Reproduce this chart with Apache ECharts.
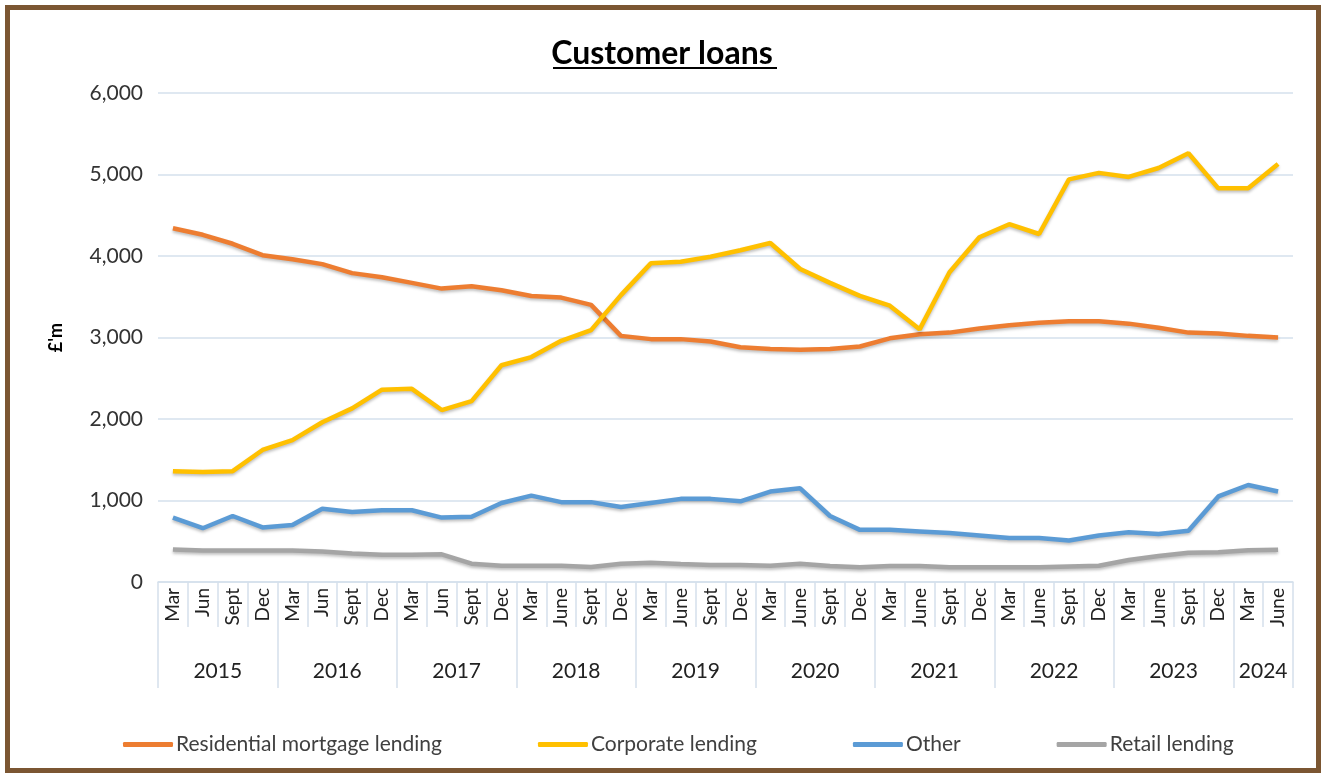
<!DOCTYPE html>
<html>
<head>
<meta charset="utf-8">
<script src="https://cdn.jsdelivr.net/npm/echarts@6/dist/echarts.min.js"></script>
<style>
html,body{margin:0;padding:0;background:#fff;}
#chart{position:absolute;left:0;top:0;width:1324px;height:774px;}
#frame{position:absolute;left:5px;top:5px;width:1316px;height:768px;box-sizing:border-box;border:5px solid #7B5632;pointer-events:none;}
</style>
</head>
<body>
<div id="chart"></div>
<div id="frame"></div>
<script>
const quarters = ['Mar','Jun','Sept','Dec','Mar','Jun','Sept','Dec','Mar','Jun','Sept','Dec',
  'Mar','June','Sept','Dec','Mar','June','Sept','Dec','Mar','June','Sept','Dec',
  'Mar','June','Sept','Dec','Mar','June','Sept','Dec','Mar','June','Sept','Dec','Mar','June'];
const years = ['2015','2016','2017','2018','2019','2020','2021','2022','2023','2024'];
const yearStart = [0,4,8,12,16,20,24,28,32,36,38];
const yTicks = [0,1000,2000,3000,4000,5000,6000];

const residential = [4340,4260,4150,4010,3960,3900,3790,3740,3670,3600,3630,3580,
  3510,3490,3400,3020,2980,2980,2950,2880,2860,2850,2860,2890,
  2990,3040,3060,3110,3150,3180,3200,3200,3170,3120,3060,3050,3020,3000];
const corporate = [1360,1350,1360,1620,1740,1960,2130,2360,2370,2110,2220,2660,
  2760,2960,3090,3520,3910,3930,3990,4070,4160,3840,3670,3510,
  3390,3100,3800,4230,4390,4270,4940,5020,4970,5080,5260,4830,4830,5130];
const other = [790,660,810,670,700,900,860,880,880,790,800,970,
  1060,980,980,920,970,1020,1020,990,1110,1150,810,640,
  640,620,600,570,540,540,510,570,610,590,630,1050,1190,1110];
const retail = [400,385,385,385,385,375,350,335,335,340,225,200,
  200,200,185,225,235,220,210,210,200,225,195,180,
  195,195,180,180,180,180,190,200,270,320,360,365,390,395];

const yearMid = years.map((y,i)=> (yearStart[i]+yearStart[i+1])/2);
const FONT = 'Lato, "Open Sans", sans-serif';
const gridColor = '#D5E0EC';

function lineSeries(name, data, color){
  return {
    name, type:'line', data, xAxisIndex:0, yAxisIndex:0,
    symbol:'none', smooth:false,
    lineStyle:{width:4.5, color, shadowColor:'rgba(0,0,0,0.25)', shadowBlur:3, shadowOffsetY:2},
    itemStyle:{color},
    emphasis:{disabled:true}
  };
}

const chart = echarts.init(document.getElementById('chart'), null, {renderer:'canvas'});
chart.setOption({
  backgroundColor:'#ffffff',
  animation:false,
  textStyle:{fontFamily:FONT},
  title:{
    text:'Customer loans', left:'center', top:33,
    textStyle:{fontFamily:FONT, fontWeight:'bold', fontSize:32, color:'#000'}
  },
  graphic:[{type:'line', shape:{x1:553,y1:68,x2:777,y2:68}, style:{stroke:'#000', lineWidth:2}}],
  grid:{left:158, right:31, top:93, bottom:192, containLabel:false},
  legend:{
    left:118, top:729, itemWidth:50, itemHeight:5, itemGap:96, icon:'roundRect',
    textStyle:{fontFamily:FONT, fontSize:21, color:'#404040', padding:[0,0,0,-2]},
    data:['Residential mortgage lending','Corporate lending','Other','Retail lending']
  },
  xAxis:[{
    type:'category', data:quarters, boundaryGap:true, position:'bottom',
    axisLine:{show:true, lineStyle:{color:gridColor, width:1.5}},
    axisTick:{show:true, interval:0, length:45, lineStyle:{color:gridColor, width:1.5}},
    axisLabel:{interval:0, rotate:90, margin:6, fontFamily:FONT, fontSize:19, color:'#222'},
    splitLine:{show:false}
  },{
    type:'value', min:0, max:38, position:'bottom', offset:0,
    axisLine:{show:false},
    axisTick:{show:true, customValues:yearStart, length:106, lineStyle:{color:gridColor, width:1.5}},
    axisLabel:{show:true, customValues:yearMid, margin:79, fontFamily:FONT, fontSize:21, color:'#222',
      formatter:function(v){ const i = yearMid.indexOf(v); return i>=0 ? years[i] : ''; }},
    splitLine:{show:false}
  }],
  yAxis:{
    type:'value', min:0, max:6000, interval:1000,
    name:"£'m", nameLocation:'middle', nameGap:93, nameRotate:90,
    nameTextStyle:{fontFamily:FONT, fontWeight:'bold', fontSize:18, color:'#000'},
    axisLine:{show:false}, axisTick:{show:false},
    axisLabel:{margin:15, fontFamily:FONT, fontSize:21, color:'#333',
      formatter:function(v){ return v.toLocaleString('en-GB'); }},
    splitLine:{show:true, lineStyle:{color:gridColor, width:1.5}}
  },
  series:[
    lineSeries('Residential mortgage lending', residential, '#ED7D31'),
    lineSeries('Corporate lending', corporate, '#FFC000'),
    lineSeries('Other', other, '#5B9BD5'),
    lineSeries('Retail lending', retail, '#A5A5A5')
  ]
});
</script>
</body>
</html>
